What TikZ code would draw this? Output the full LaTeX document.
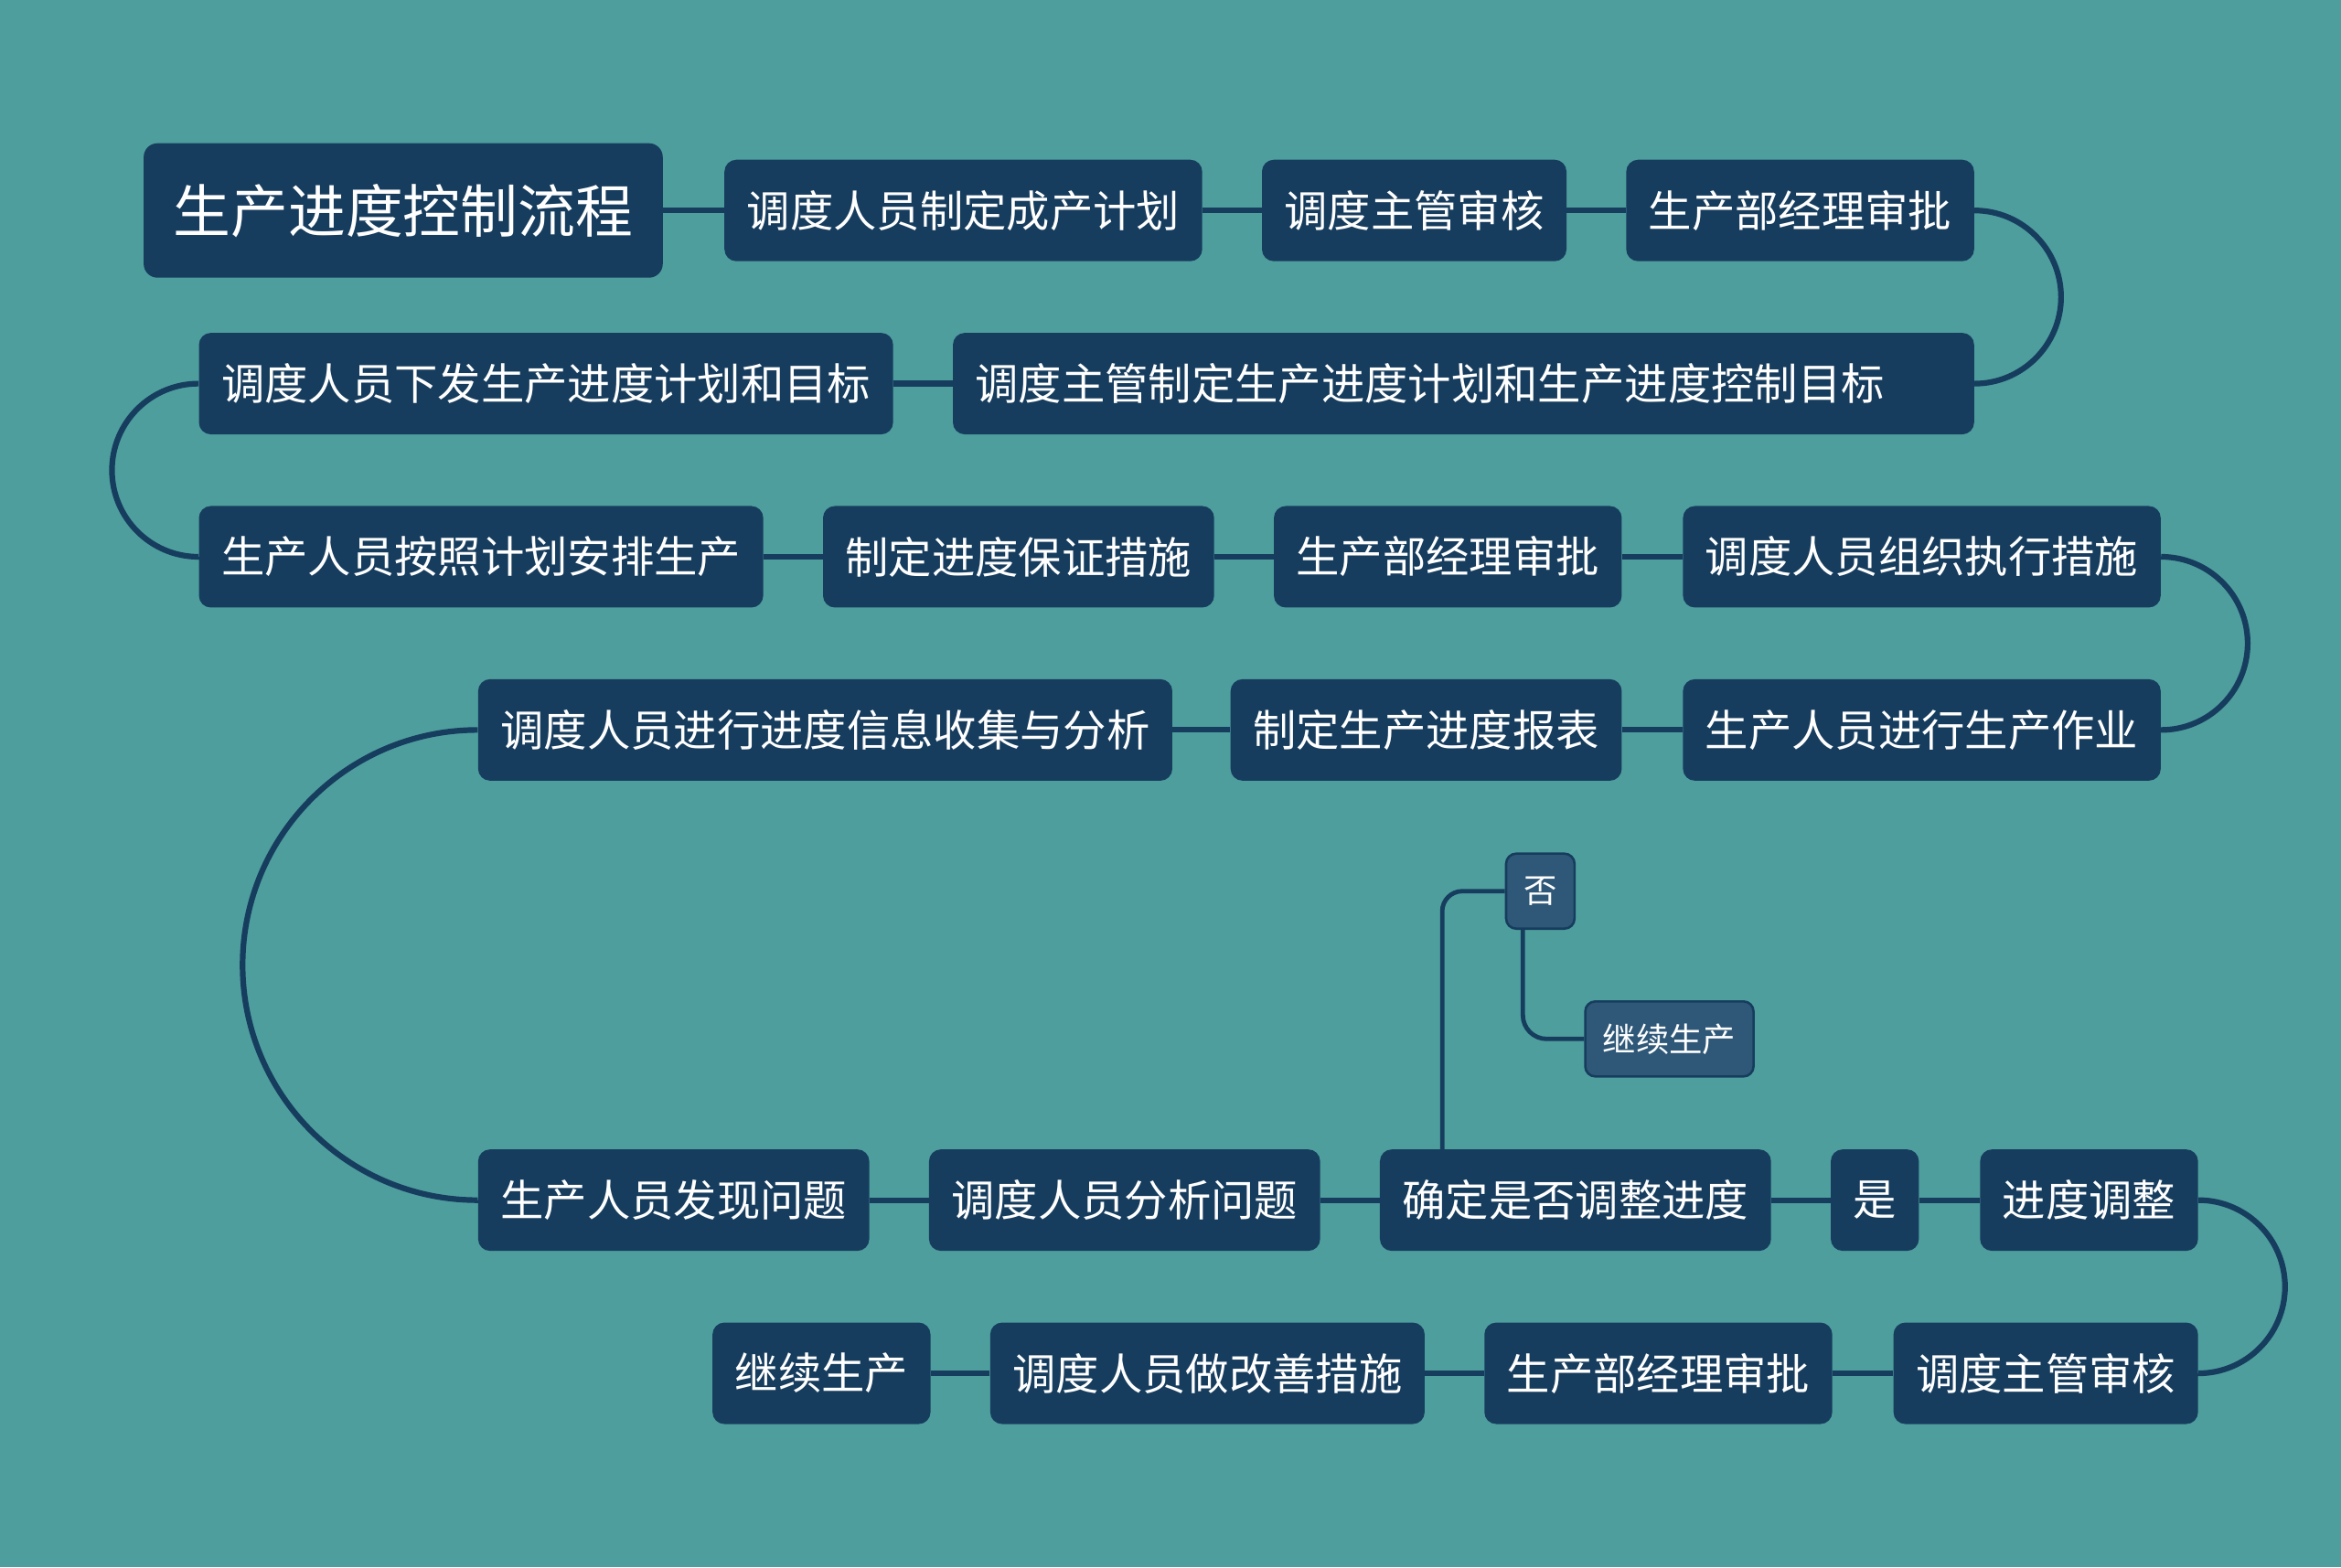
\documentclass[tikz,border=0pt]{standalone}
\usepackage{fontspec}
\setmainfont{Noto Sans CJK SC}
\definecolor{bgc}{HTML}{4E9E9E}
\definecolor{boxc}{HTML}{173D5E}
\definecolor{sboxc}{HTML}{2F5878}
\definecolor{linec}{HTML}{173D5E}
\begin{document}
\begin{tikzpicture}[x=0.8163pt,y=-0.8163pt,
  box/.style={fill=boxc, rounded corners=6.5pt, text=white,
    font=\fontsize{23.67pt}{25pt}\selectfont, inner xsep=12.25pt, inner ysep=0pt,
    minimum height=55.5pt, anchor=west},
  titlebox/.style={box, font=\fontsize{31.4pt}{33pt}\selectfont, inner xsep=16.3pt,
    minimum height=73.5pt, rounded corners=7.5pt},
  sbox/.style={fill=sboxc, draw=linec, line width=1.3pt, rounded corners=5.5pt, text=white,
    font=\fontsize{18.2pt}{19pt}\selectfont, inner xsep=9.6pt, inner ysep=0pt,
    minimum height=41pt, anchor=west},
  link/.style={draw=linec, line width=3.1pt},
  branch/.style={draw=linec, line width=2.4pt},
]
\fill[bgc] (0,0) rectangle (1568,1050);
\useasboundingbox (0,0) rectangle (1568,1050);

% row 1
\node[titlebox] (t) at (96,141) {生产进度控制流程};
\node[box] (a1) at (485,141) {调度人员制定成产计划};
\node[box] (a2) at (845,141) {调度主管审核};
\node[box] (a3) at (1089,141) {生产部经理审批};
% row 2
\node[box, text width=654*0.8163pt, align=left] (b2) at (638,257) {调度主管制定生产进度计划和生产进度控制目标};
\node[box] (b1) at (133,257) {调度人员下发生产进度计划和目标};
% row 3
\node[box] (c1) at (133,373) {生产人员按照计划安排生产};
\node[box] (c2) at (551,373) {制定进度保证措施};
\node[box] (c3) at (853,373) {生产部经理审批};
\node[box] (c4) at (1127,373) {调度人员组织执行措施};
% row 4
\node[box] (d3) at (1127,489) {生产人员进行生产作业};
\node[box] (d2) at (824,489) {制定生产进度报表};
\node[box] (d1) at (320,489) {调度人员进行进度信息收集与分析};
% row 5
\node[box] (e1) at (320,804) {生产人员发现问题};
\node[box] (e2) at (622,804) {调度人员分析问题};
\node[box] (e3) at (924,804) {确定是否调整进度};
\node[box] (e4) at (1226,804) {是};
\node[box] (e5) at (1326,804) {进度调整};
% row 6
\node[box] (f4) at (1268,920) {调度主管审核};
\node[box] (f3) at (994,920) {生产部经理审批};
\node[box] (f2) at (663,920) {调度人员做改善措施};
\node[box] (f1) at (477,920) {继续生产};
% branch
\node[sbox] (no) at (1008,597) {否};
\node[sbox] (g) at (1061,696) {继续生产};

% connectors
\draw[link] (t.east) -- (a1.west);
\draw[link] (a1) -- (a2);
\draw[link] (a2) -- (a3);
\draw[link] (a3.east) arc[start angle=90, end angle=-90, radius=47.35pt] -- (b2.east);
\draw[link] (b2) -- (b1);
\draw[link] (b1.west) arc[start angle=90, end angle=270, radius=47.35pt] -- (c1.west);
\draw[link] (c1) -- (c2);
\draw[link] (c2) -- (c3);
\draw[link] (c3) -- (c4);
\draw[link] (c4.east) arc[start angle=90, end angle=-90, radius=47.35pt] -- (d3.east);
\draw[link] (d3) -- (d2);
\draw[link] (d2) -- (d1);
\draw[link] (d1.west) arc[start angle=90, end angle=270, radius=128.57pt] -- (e1.west);
\draw[link] (e1) -- (e2);
\draw[link] (e2) -- (e3);
\draw[link] (e3) -- (e4);
\draw[link] (e4) -- (e5);
\draw[link] (e5.east) arc[start angle=90, end angle=-90, radius=47.35pt] -- (f4.east);
\draw[link] (f4) -- (f3);
\draw[link] (f3) -- (f2);
\draw[link] (f2) -- (f1);
\draw[branch, rounded corners=11pt] (e3.north west) ++(42,0) |- (no.west);
\draw[branch, rounded corners=13pt] (no.south west) ++(12,0) |- (g.west);
\end{tikzpicture}
\end{document}
